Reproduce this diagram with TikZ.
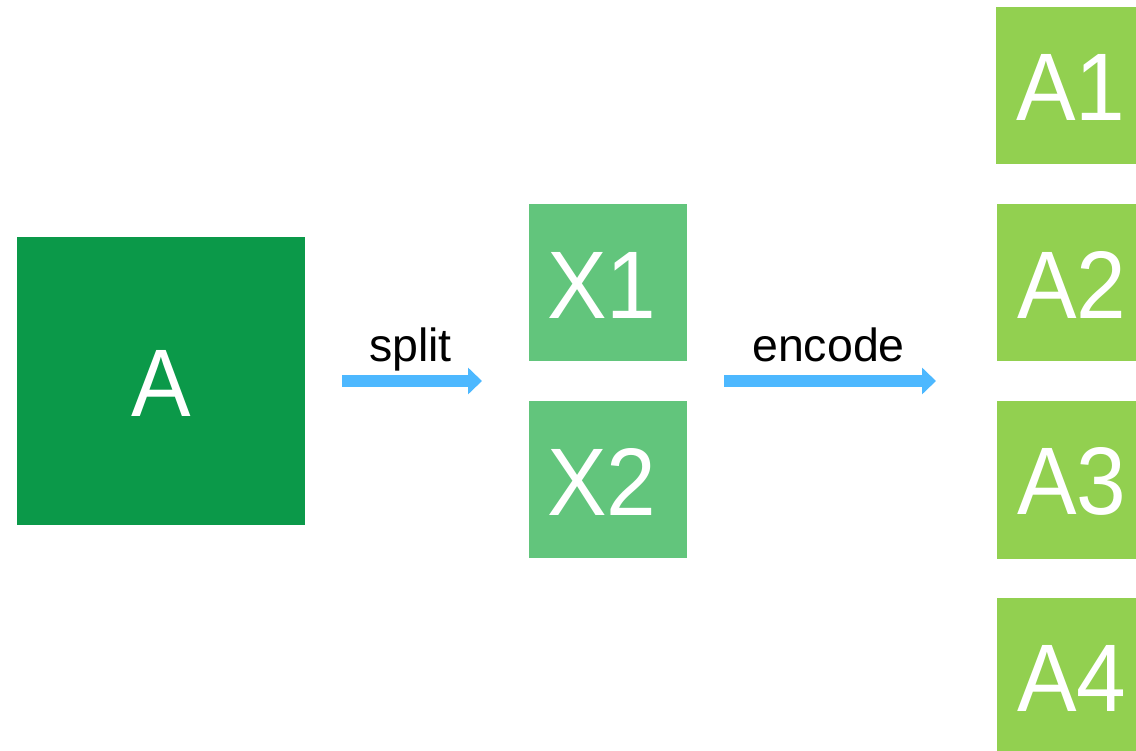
\documentclass[tikz,border=0pt]{standalone}
\usepackage{fontspec}
\setmainfont{Liberation Sans}
\newfontfamily\blockfont[FakeStretch=0.93]{Liberation Sans}
\usetikzlibrary{arrows.meta}
\definecolor{darkgreen}{RGB}{11,153,73}
\definecolor{midgreen}{RGB}{98,197,124}
\definecolor{lightgreen}{RGB}{146,208,80}
\definecolor{arrowblue}{RGB}{77,184,255}
\tikzset{
  block/.style={rectangle, inner sep=0pt},
  bigblock/.style={block, fill=darkgreen, minimum width=288pt, minimum height=288pt},
  halfblock/.style={block, fill=midgreen, minimum width=158pt, minimum height=157pt},
  partblock/.style={block, fill=lightgreen, minimum width=158pt, minimum height=157pt},
  blocktext/.style={inner sep=0pt, text=white,
    font=\blockfont\fontsize{96}{96}\selectfont},
  flow/.style={draw=arrowblue, line width=12pt,
    -{Triangle[length=14pt,width=26pt]}},
  steplabel/.style={anchor=base, inner sep=0pt, font=\fontsize{46.5}{46.5}\selectfont}
}
\begin{document}
\begin{tikzpicture}[x=1pt,y=-1pt]
  \useasboundingbox (0,0) rectangle (1136,751);
  \clip (0,0) rectangle (1136,751);

  % source block
  \node[bigblock] (A) at (161,381) {};
  \node[blocktext] (At) at (161,383) {A};

  % split halves
  \node[halfblock] (X1) at (608,282.5) {};
  \node[blocktext] (X1t) at (602,285) {X1};
  \node[halfblock] (X2) at (608,479.5) {};
  \node[blocktext] (X2t) at (602,482) {X2};

  % encoded parts
  \node[partblock] (A1) at (1075,86) {};
  \node[blocktext] (A1t) at (1071,87) {A1};
  \node[partblock] (A2) at (1076,283) {};
  \node[blocktext] (A2t) at (1072,284.5) {A2};
  \node[partblock] (A3) at (1076,480) {};
  \node[blocktext] (A3t) at (1072,481.5) {A3};
  \node[partblock] (A4) at (1076,676.5) {};
  \node[blocktext] (A4t) at (1072,678) {A4};

  % arrows with their labels
  \coordinate (s0) at (342,381);
  \coordinate (s1) at (482,381);
  \draw[flow] (s0) -- (s1);
  \node[steplabel] (split) at (410.5,362) {split};

  \coordinate (e0) at (724,381);
  \coordinate (e1) at (936,381);
  \draw[flow] (e0) -- (e1);
  \node[steplabel] (encode) at (828.5,362) {encode};
\end{tikzpicture}
\end{document}
